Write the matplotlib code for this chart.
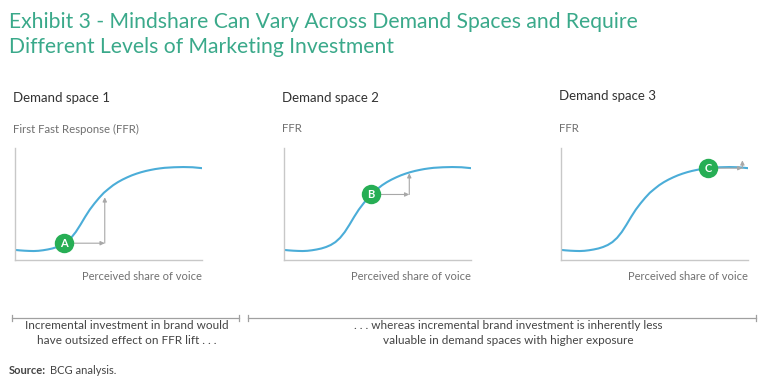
import numpy as np
import matplotlib
matplotlib.use("Agg")
import matplotlib.pyplot as plt
from matplotlib.lines import Line2D

plt.rcParams['font.family'] = ['Lato', 'DejaVu Sans']

# ---- data ----
title_lines = ["Exhibit 3 - Mindshare Can Vary Across Demand Spaces and Require",
               "Different Levels of Marketing Investment"]
panel_titles = ["Demand space 1", "Demand space 2", "Demand space 3"]
y_labels = ["First Fast Response (FFR)", "FFR", "FFR"]
x_label = "Perceived share of voice"

curve_x = [0, 2.5, 5, 7.5, 10, 12.5, 15, 17.5, 20, 22.5, 25, 27.5, 30, 32.5, 35, 37.5, 40,
           42.5, 45, 47.5, 50, 52.5, 55, 57.5, 60, 62.5, 65, 67.5, 70, 72.5, 75, 77.5, 80,
           85, 90, 95, 100]
curve_y = [9, 8.6, 8.3, 8.1, 8, 8.2, 8.7, 9.4, 10.3, 11.6, 13.4, 16, 19.8, 25, 31.5, 38.5, 45,
           50.5, 55.5, 60, 63.5, 66.8, 69.5, 71.8, 73.8, 75.6, 77.1, 78.4, 79.5, 80.4, 81.2, 81.8, 82.3,
           82.8, 83, 82.8, 82]

marker_labels = ["A", "B", "C"]
marker_x = [26, 46.5, 78.6]
marker_y = [15, 58.5, 82]
step_x = [48, 67, 97]
step_top = [56, 77.5, 89]

caption_left = "Incremental investment in brand would\nhave outsized effect on FFR lift . . ."
caption_right = ". . . whereas incremental brand investment is inherently less\nvaluable in demand spaces with higher exposure"

# ---- style ----
W, H = 768, 389
TEAL = "#3aa98a"
BLUE = "#4badd8"
GREEN = "#27ae55"
GRAY_AX = "#c8c8c8"
GRAY_TXT = "#707070"
DARK = "#333333"

fig = plt.figure(figsize=(W / 100, H / 100), dpi=100)

def fx(px):
    return px / W

def fy(py):
    return 1 - py / H

# title
fig.text(fx(9), fy(22), title_lines[0], color=TEAL, fontsize=15.2, va="center", ha="left")
fig.text(fx(9), fy(47), title_lines[1], color=TEAL, fontsize=15.2, va="center", ha="left")

lefts = [15, 284, 561]
tops_title = [98, 98, 96]
for i in range(3):
    L = lefts[i]
    ax = fig.add_axes([fx(L), fy(260), 187 / W, 112 / H])
    ax.set_xlim(0, 100)
    ax.set_ylim(0, 100)
    for s in ["top", "right"]:
        ax.spines[s].set_visible(False)
    for s in ["left", "bottom"]:
        ax.spines[s].set_color(GRAY_AX)
        ax.spines[s].set_linewidth(1.0)
    ax.set_xticks([])
    ax.set_yticks([])
    ax.patch.set_alpha(0)
    ax.plot(curve_x, curve_y, color=BLUE, lw=1.5, solid_capstyle="round",
            solid_joinstyle="round", zorder=2)
    # arrows
    ax.annotate("", xy=(step_x[i], marker_y[i]), xytext=(marker_x[i], marker_y[i]),
                arrowprops=dict(arrowstyle="-|>,head_length=0.25,head_width=0.12",
                                color="#a8a8a8", lw=0.8, shrinkA=0, shrinkB=0), zorder=3)
    ax.annotate("", xy=(step_x[i], step_top[i]), xytext=(step_x[i], marker_y[i]),
                arrowprops=dict(arrowstyle="-|>,head_length=0.25,head_width=0.12",
                                color="#a8a8a8", lw=0.8, shrinkA=0, shrinkB=0), zorder=3)
    ax.plot([marker_x[i]], [marker_y[i]], "o", ms=14, color=GREEN, mec="none", zorder=5, clip_on=False)
    ax.text(marker_x[i], marker_y[i], marker_labels[i], color="white", fontsize=8,
            fontweight="bold", ha="center", va="center", zorder=6)
    # texts
    fig.text(fx(L - 2), fy(tops_title[i]), panel_titles[i], fontsize=9.5, color=DARK, va="center")
    fig.text(fx(L - 2), fy(129), y_labels[i], fontsize=8.2, color=GRAY_TXT, va="center")
    fig.text(fx(L + 187), fy(277), x_label, fontsize=8, color=GRAY_TXT, va="center", ha="right")

# brackets
def bracket(x0, x1, y):
    fig.add_artist(Line2D([fx(x0), fx(x1)], [fy(y), fy(y)], color="#a0a0a0", lw=0.9))
    for x in (x0, x1):
        fig.add_artist(Line2D([fx(x), fx(x)], [fy(y - 3), fy(y + 3)], color="#a0a0a0", lw=0.9))

bracket(12, 239, 318)
bracket(248, 756, 318)

fig.text(fx(127), fy(333), caption_left, fontsize=8.5, color="#444444", ha="center", va="center",
         linespacing=1.35)
fig.text(fx(508), fy(333), caption_right, fontsize=8.5, color="#444444", ha="center", va="center",
         linespacing=1.35)

fig.text(fx(9), fy(370), "Source:", fontsize=8, color="#444444", fontweight="bold", va="center")
fig.text(fx(49.5), fy(370), "BCG analysis.", fontsize=8, color="#444444", va="center")

fig.savefig("out.png", dpi=100, facecolor="white")
